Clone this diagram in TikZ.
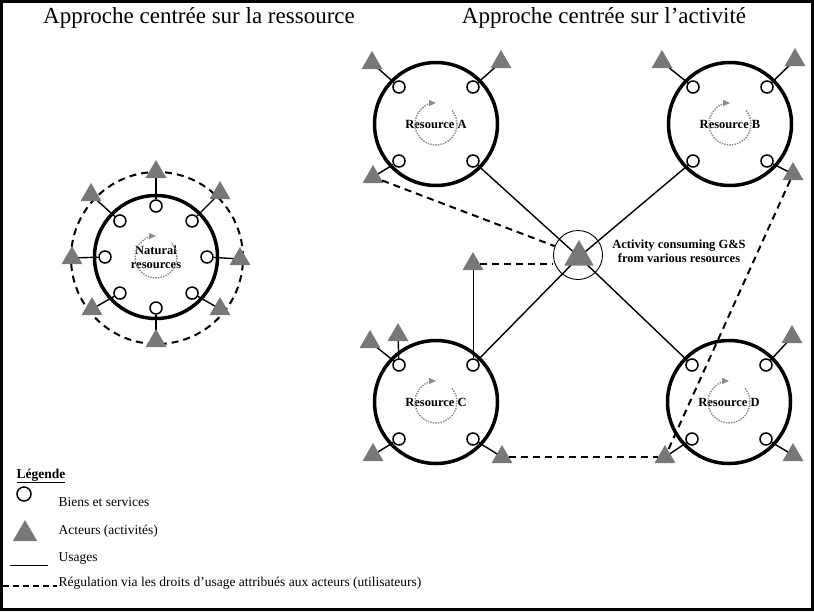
\documentclass[tikz,border=0pt]{standalone}
\usepackage{fontspec}
\setmainfont{Liberation Serif}
\usetikzlibrary{shapes.geometric,arrows.meta,backgrounds,calc}
\definecolor{actgray}{RGB}{120,120,120}
\definecolor{cyclegray}{RGB}{140,140,140}
\tikzset{
 rescircle/.style={circle,draw,line width=3.5pt,minimum size=123pt,inner sep=0pt,font=\fontsize{12.5}{14}\selectfont\bfseries},
 good/.style={circle,draw,line width=1.5pt,fill=white,minimum size=12pt,inner sep=0pt},
 actor/.style={regular polygon,regular polygon sides=3,fill=actgray,minimum size=24pt,inner sep=0pt},
 usage/.style={line width=1.4pt},
 regul/.style={line width=2pt,dash pattern=on 7pt off 5pt},
 cyclearrow/.style={cyclegray,line width=1.5pt,dash pattern=on 1.4pt off 1.2pt,-{Triangle[length=7pt,width=6pt]}},
 title/.style={font=\fontsize{23}{26}\selectfont,anchor=base},
 legtext/.style={font=\fontsize{13.5}{16}\selectfont,anchor=base west},
}
\newcommand\resourcenode[4]{%
  \node[rescircle] (#1) at (#2,#3) {#4};
  \draw[cyclearrow] ($(#1)+(-40:21)$) arc[start angle=-40,end angle=270,radius=21];
  \node[good] (#1-g1) at ($(#1)+(-37,-37)$) {};
  \node[good] (#1-g2) at ($(#1)+(37,-37)$) {};
  \node[good] (#1-g3) at ($(#1)+(-37,37)$) {};
  \node[good] (#1-g4) at ($(#1)+(37,37)$) {};
}
\begin{document}
\begin{tikzpicture}[x=1pt,y=-1pt]
\useasboundingbox (0,0) rectangle (814,611);
\draw[line width=3pt] (1.5,1.5) rectangle (812.5,609.5);
% titles
\node[title] (t1) at (199,23) {Approche centrée sur la ressource};
\node[title] (t2) at (604,23) {Approche centrée sur l’activité};
% ---- natural resources ----
\node[rescircle,align=center] (NR) at (156,257) {Natural\\resources};
\draw[cyclearrow] ($(NR)+(-40:21)$) arc[start angle=-40,end angle=270,radius=21];
\node[circle,draw,regul,minimum size=172pt,inner sep=0pt] (NRd) at (157,258) {};
\foreach \i/\a in {1/0,2/45,3/90,4/135,5/180,6/225,7/270,8/315}
  \node[good] (NR-g\i) at ($(NR)+(\a:51)$) {};
\node[actor] (NR-t1) at ($(NR)+(84,2)$) {};
\node[actor] (NR-t2) at ($(NR)+(64,52)$) {};
\node[actor] (NR-t3) at ($(NR)+(0,84)$) {};
\node[actor] (NR-t4) at ($(NR)+(-64,52)$) {};
\node[actor] (NR-t5) at ($(NR)+(-84,1)$) {};
\node[actor] (NR-t6) at ($(NR)+(-65,-62)$) {};
\node[actor] (NR-t7) at ($(NR)+(0,-85)$) {};
\node[actor] (NR-t8) at ($(NR)+(64,-64)$) {};
\begin{scope}[on background layer]
\foreach \i in {1,...,8}
  \draw[usage] (NR-g\i) -- (NR-t\i.center);
\end{scope}
% ---- activity centred ----
\resourcenode{A}{436}{124}{Resource A}
\resourcenode{B}{730}{124}{Resource B}
\resourcenode{C}{436}{402}{Resource C}
\resourcenode{D}{729}{402}{Resource D}
\node[circle,draw,line width=0.9pt,minimum size=49pt,inner sep=0pt] (actc) at (578,255) {};
\node[regular polygon,regular polygon sides=3,fill=actgray,minimum size=34pt,inner sep=0pt] (act) at (579,257) {};
\node[font=\fontsize{12.5}{13.5}\selectfont\bfseries,align=center] (acttext) at (679,251) {Activity consuming G\&S\\from various resources};
% actors
\node[actor] (A-t1) at ($(A)+(-64,-61)$) {};
\node[actor] (A-t2) at ($(A)+(65,-62)$) {};
\node[actor] (A-t3) at ($(A)+(-63,53)$) {};
\node[actor] (B-t1) at ($(B)+(-68,-62)$) {};
\node[actor] (B-t2) at ($(B)+(65,-64)$) {};
\node[actor] (B-t4) at ($(B)+(63,50)$) {};
\node[actor] (C-t1) at ($(C)+(-66,-60)$) {};
\node[actor] (C-tv) at ($(C)+(-38,-67)$) {};
\node[actor] (C-t3) at ($(C)+(-63,53)$) {};
\node[actor] (C-t4) at ($(C)+(66,55)$) {};
\node[actor] (C-tu) at ($(C)+(37,-138)$) {};
\node[actor] (D-t2) at ($(D)+(63,-65)$) {};
\node[actor] (D-t3) at ($(D)+(-64,55)$) {};
\node[actor] (D-t4) at ($(D)+(64,53)$) {};
\begin{scope}[on background layer]
\draw[usage] (A-g1) -- (A-t1.center);
\draw[usage] (A-g2) -- (A-t2.center);
\draw[usage] (A-g3) -- (A-t3.center);
\draw[usage] (B-g1) -- (B-t1.center);
\draw[usage] (B-g2) -- (B-t2.center);
\draw[usage] (B-g4) -- (B-t4.center);
\draw[usage] (C-g1) -- (C-t1.center);
\draw[usage] (C-g1) -- (C-tv.center);
\draw[usage] (C-g3) -- (C-t3.center);
\draw[usage] (C-g4) -- (C-t4.center);
\draw[line width=0.9pt] (C-g2) -- (C-tu.center);
\draw[usage] (D-g2) -- (D-t2.center);
\draw[usage] (D-g3) -- (D-t3.center);
\draw[usage] (D-g4) -- (D-t4.center);
\draw[usage] (A-g4) -- (act.center);
\draw[usage] (B-g3) -- (act.center);
\draw[usage] (C-g2) -- (act.center);
\draw[usage] (D-g1) -- (act.center);
\end{scope}
% regulation
\draw[regul] (A-t3) -- (actc);
\draw[regul] (C-tu.east) -- (C-tu.east -| actc.west);
\draw[regul] (C-t4) -- (D-t3);
\draw[regul] (B-t4) -- (D-t3);
% ---- legend ----
\node[font=\fontsize{13.5}{16}\selectfont\bfseries,anchor=base west] (leg) at (13,478) {\underline{Légende}};
\node[good,minimum size=14pt] (lg) at (24,494) {};
\node[legtext] (lgt) at (55,506) {Biens et services};
\node[actor,minimum size=28pt] (la) at (25,534) {};
\node[legtext] (lat) at (55,534) {Acteurs (activités)};
\coordinate (lu1) at (10,565);
\coordinate (lu2) at (48,565);
\draw[line width=1pt] (lu1) -- (lu2);
\node[legtext] (lut) at (55,561) {Usages};
\coordinate (lr1) at (3,586);
\coordinate (lr2) at (57,586);
\draw[line width=1.6pt,dash pattern=on 6pt off 4pt] (lr1) -- (lr2);
\node[legtext] (lrt) at (55,586) {Régulation via les droits d’usage attribués aux acteurs (utilisateurs)};
\end{tikzpicture}
\end{document}
